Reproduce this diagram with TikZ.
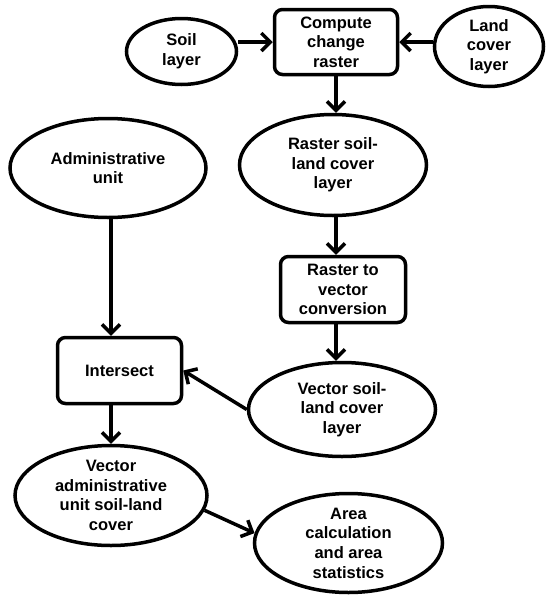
\documentclass[tikz,border=0pt]{standalone}
\usepackage{fontspec}
\setmainfont{Liberation Sans}
\usetikzlibrary{shapes.geometric,arrows.meta,calc}
\begin{document}
\begin{tikzpicture}[x=1pt,y=-1pt,
  every node/.style={font=\fontsize{16.5}{19.6}\selectfont\bfseries, align=center, line width=3.5pt, draw=black, inner sep=0pt},
  oval/.style={ellipse, inner ysep=-4pt},
  procbox/.style={rectangle, rounded corners=8pt},
  arr/.style={line width=3.5pt, -{Straight Barb[length=9pt,width=18pt]}}
]
\useasboundingbox (0,0) rectangle (550,603);
\node[oval, minimum width=110pt, minimum height=66pt] (soil) at (181.5,51.5) {Soil\\layer};
\node[procbox, minimum width=123pt, minimum height=65pt] (compute) at (336,42) {Compute\\change\\raster};
\node[oval, minimum width=109pt, minimum height=80pt] (land) at (489,46.5) {Land\\cover\\layer};
\node[oval, minimum width=187pt, minimum height=101pt] (rsoil) at (333,165) {Raster soil-\\land cover\\layer};
\node[oval, minimum width=196pt, minimum height=99pt] (admin) at (108,168) {Administrative\\unit};
\node[procbox, minimum width=125pt, minimum height=66pt] (r2v) at (343,289.5) {Raster to\\vector\\conversion};
\node[procbox, minimum width=124pt, minimum height=66pt] (intersect) at (119.5,370.5) {Intersect};
\node[oval, minimum width=187pt, minimum height=94pt] (vsoil) at (342,409.5) {Vector soil-\\land cover\\layer};
\node[oval, minimum width=192pt, minimum height=100pt] (vadmin) at (111,495.5) {Vector\\administrative\\unit soil-land\\cover};
\node[oval, minimum width=188pt, minimum height=99pt] (area) at (348.5,543) {Area\\calculation\\and area\\statistics};

\draw[arr] (compute.west -| soil.east) -- (compute.west);
\draw[arr] (compute.east -| land.west) -- (compute.east);
\draw[arr] (compute.south) -- (compute.south |- rsoil.north);
\draw[arr] (rsoil.south -| compute.south) -- (r2v.north -| compute.south);
\draw[arr] (r2v.south -| compute.south) -- (vsoil.north -| compute.south);
\draw[arr] (admin.south -| vadmin.north) -- (intersect.north -| vadmin.north);
\draw[arr] (vsoil.west) -- (intersect.east);
\draw[arr] (intersect.south -| vadmin.north) -- (vadmin.north);
\draw[arr] (vadmin.-9) -- (area.174);
\end{tikzpicture}
\end{document}
